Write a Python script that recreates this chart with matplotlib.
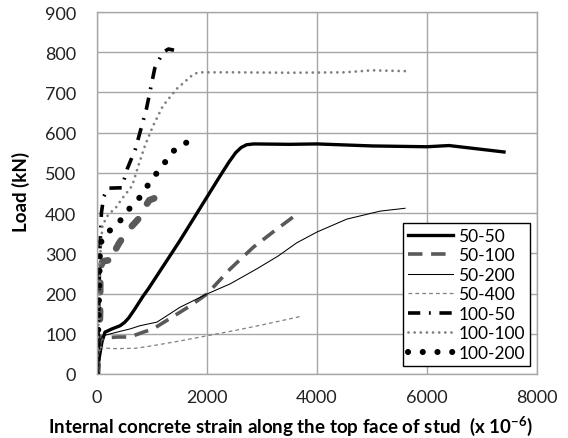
import numpy as np
import matplotlib.pyplot as plt

plt.rcParams['font.family'] = ['Lato', 'DejaVu Sans']
plt.rcParams['mathtext.default'] = 'regular'

# strain (x 10^-6) and load (kN)
x_50_50 = [0, 40, 90, 145, 270, 420, 500, 580, 680, 840, 930, 1500, 2000, 2250, 2400, 2520, 2620, 2720, 2850, 3500, 4000, 5000, 6000, 6400, 7400]
y_50_50 = [0, 40, 80, 104, 112, 120, 128, 140, 160, 194, 211, 330, 440, 495, 527, 550, 563, 570, 572, 571, 572, 567, 565, 568, 552]

x_50_100 = [0, 40, 60, 150, 380, 600, 840, 1020, 1350, 1690, 2000, 2420, 2840, 3200, 3660]
y_50_100 = [0, 60, 85, 90, 92, 92, 104, 112, 140, 169, 199, 261, 315, 353, 400]

x_50_200 = [0, 30, 60, 110, 360, 600, 780, 1090, 1510, 2000, 2420, 2900, 3290, 3630, 4000, 4540, 5150, 5600]
y_50_200 = [0, 45, 85, 95, 104, 112, 120, 129, 166, 199, 224, 261, 293, 326, 353, 385, 405, 412]

x_50_400 = [0, 30, 50, 100, 300, 700, 1000, 1500, 2000, 2500, 3000, 3700]
y_50_400 = [0, 40, 68, 65, 63, 64, 70, 82, 95, 108, 122, 143]

x_100_50 = [0, 30, 50, 80, 120, 200, 450, 550, 700, 900, 1050, 1200, 1300, 1400]
y_100_50 = [0, 150, 300, 400, 440, 462, 463, 510, 560, 660, 760, 800, 808, 805]

x_100_100 = [0, 20, 40, 60, 100, 200, 350, 450, 640, 750, 870, 1020, 1200, 1450, 1750, 1850, 2500, 3500, 4500, 5000, 5600]
y_100_100 = [0, 100, 200, 300, 370, 395, 415, 435, 468, 517, 567, 617, 667, 709, 745, 750, 750, 749, 750, 755, 753]

x_100_200 = [0, 30, 55, 110, 380, 545, 730, 870, 1020, 1200, 1310, 1510, 1655]
y_100_200 = [0, 150, 318, 343, 373, 405, 430, 458, 489, 517, 545, 568, 577]

# extra grey curve near the origin (not in legend)
x_extra = [0, 40, 55, 60, 100, 300, 330, 300, 400, 550, 750, 870, 950, 1100]
y_extra = [0, 80, 150, 260, 280, 285, 292, 300, 325, 355, 385, 415, 432, 440]

xticks = [0, 2000, 4000, 6000, 8000]
yticks = np.arange(0, 1000, 100)

fig = plt.figure(figsize=(5.68, 4.39), dpi=100)
ax = fig.add_axes([97/568, 64/439, 440/568, 362/439])

ax.plot(x_extra, y_extra, color='#595959', lw=4.8, dashes=(1.4, 2.7),
        dash_capstyle='round', solid_capstyle='round')
ax.plot(x_50_50, y_50_50, color='black', lw=2.4, label='50-50')
ax.plot(x_50_100, y_50_100, color='#595959', lw=2.6, dashes=(4, 2.4), label='50-100')
ax.plot(x_50_200, y_50_200, color='black', lw=0.75, label='50-200')
ax.plot(x_50_400, y_50_400, color='#7f7f7f', lw=0.9, dashes=(3, 2.5), label='50-400')
ax.plot(x_100_50, y_100_50, color='black', lw=2.6, dashes=(3.4, 2.4, 0.5, 2.4), label='100-50')
ax.plot(x_100_100, y_100_100, color='#7f7f7f', lw=2.0, dashes=(0.01, 2.2),
        dash_capstyle='round', label='100-100')
ax.plot(x_100_200, y_100_200, color='black', lw=4.4, dashes=(0.01, 2.4),
        dash_capstyle='round', label='100-200')

ax.set_xlim(0, 8000)
ax.set_ylim(0, 900)
ax.set_xticks(xticks)
ax.set_yticks(yticks)
ax.tick_params(length=0, labelsize=13, colors='#222222')
ax.tick_params(axis='y', pad=15)
ax.tick_params(axis='x', pad=11)
ax.grid(True, color='#a6a6a6', lw=1.0)
ax.set_axisbelow(True)
for s in ax.spines.values():
    s.set_color('#a6a6a6')
    s.set_linewidth(1.0)

fig.text(21/568, 1 - 192/439, 'Load (kN)', rotation=90, ha='center', va='center',
         fontsize=13.5, fontweight='bold')
fig.text(291/568, 6/439, r'Internal concrete strain along the top face of stud  (x 10$^{-6}$)',
         ha='center', va='baseline', fontsize=13.5, fontweight='bold')

leg = ax.legend(loc='lower right', bbox_to_anchor=(0.984, 0.022), fontsize=12.5,
                frameon=True, fancybox=False, edgecolor='black', framealpha=1,
                handlelength=2.6, labelspacing=0.2, borderpad=0.3, handletextpad=0.3,
                borderaxespad=0)
leg.get_frame().set_linewidth(1.0)

fig.savefig('out.png', dpi=100)
